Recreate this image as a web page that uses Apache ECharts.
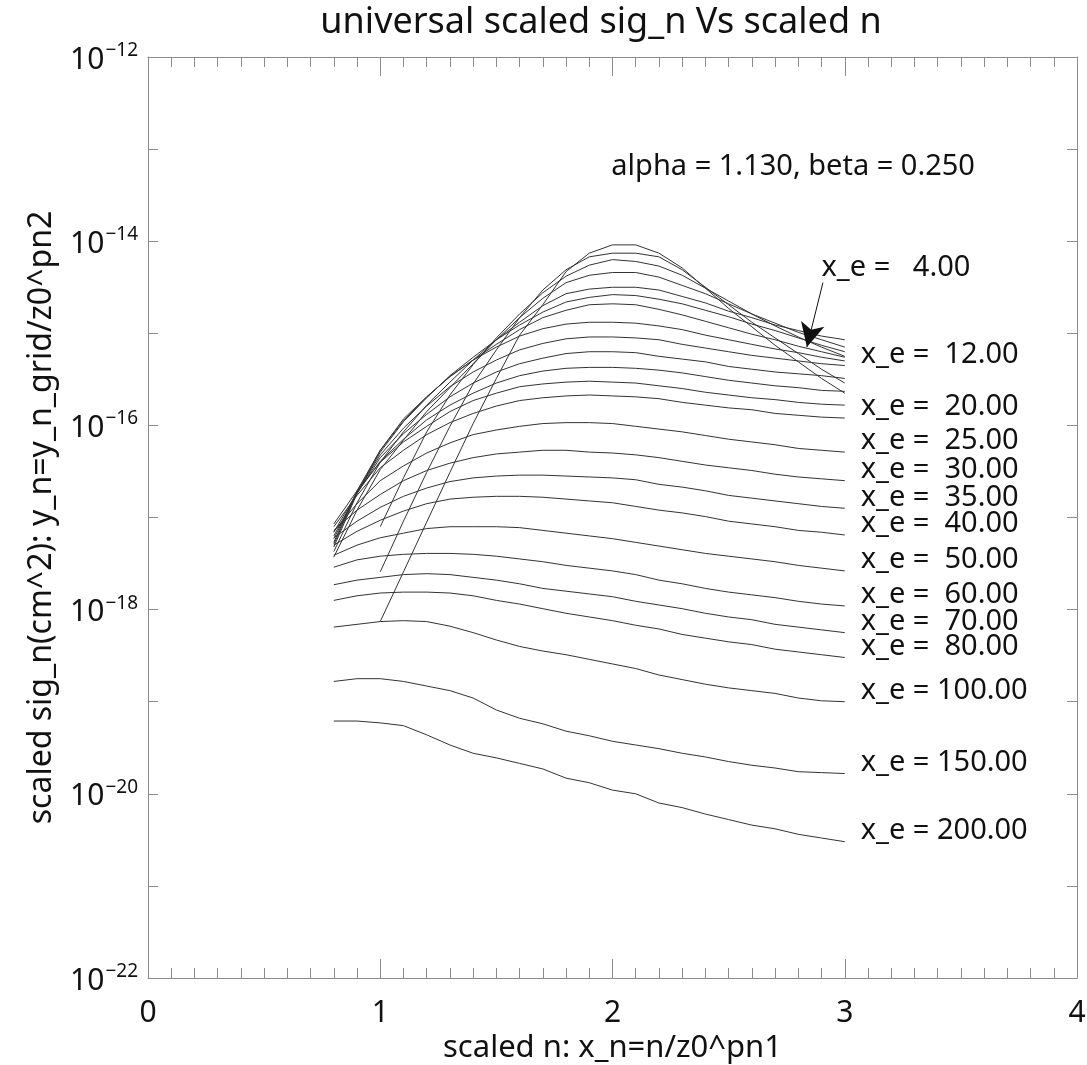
<!DOCTYPE html>
<html>
<head>
<meta charset="utf-8">
<script src="https://cdn.jsdelivr.net/npm/echarts@6/dist/echarts.min.js"></script>
<style>
  html, body { margin: 0; padding: 0; background: #fff; }
  #chart { width: 1087px; height: 1065px; }
</style>
</head>
<body>
<div id="chart"></div>
<script>
// scaled n grid (x_n) for the broad curves and the ones starting at x_n = 1
const xFrom08 = [0.8, 0.9, 1.0, 1.1, 1.2, 1.3, 1.4, 1.5, 1.6, 1.7, 1.8, 1.9, 2.0, 2.1, 2.2, 2.3, 2.4, 2.5, 2.6, 2.7, 2.8, 2.9, 3.0];
const xFrom10 = [1.0, 1.1, 1.2, 1.3, 1.4, 1.5, 1.6, 1.7, 1.8, 1.9, 2.0, 2.1, 2.2, 2.3, 2.4, 2.5, 2.6, 2.7, 2.8, 2.9, 3.0];

// log10 of scaled sig_n (cm^2)
const logSigXe4 = [-18.13, -17.59, -17.05, -16.51, -15.98, -15.49, -15.02, -14.69, -14.33, -14.13, -14.04, -14.04, -14.13, -14.29, -14.51, -14.73, -14.93, -15.13, -15.31, -15.49, -15.65];
const logSigXe5 = [-17.59, -17.04, -16.51, -16.01, -15.55, -15.18, -14.83, -14.53, -14.31, -14.17, -14.13, -14.13, -14.17, -14.31, -14.50, -14.69, -14.88, -15.05, -15.22, -15.39, -15.54];
const logSigXe6 = [-17.10, -16.57, -16.07, -15.67, -15.34, -15.05, -14.79, -14.56, -14.38, -14.26, -14.20, -14.22, -14.27, -14.37, -14.51, -14.65, -14.79, -14.92, -15.04, -15.15, -15.25];
const logSigXe7 = [-17.43, -16.92, -16.48, -16.16, -15.85, -15.59, -15.33, -15.07, -14.83, -14.62, -14.45, -14.37, -14.34, -14.34, -14.39, -14.48, -14.57, -14.68, -14.79, -14.89, -14.99, -15.07, -15.15];
const logSigXe8 = [-17.37, -16.84, -16.40, -16.07, -15.78, -15.53, -15.29, -15.07, -14.88, -14.70, -14.57, -14.52, -14.50, -14.50, -14.53, -14.60, -14.67, -14.76, -14.83, -14.91, -14.97, -15.03, -15.07];
const logSigXe9 = [-17.32, -16.74, -16.29, -15.96, -15.70, -15.46, -15.26, -15.07, -14.91, -14.77, -14.66, -14.61, -14.58, -14.59, -14.63, -14.68, -14.75, -14.82, -14.90, -14.97, -15.05, -15.13, -15.20];
const logSigXe10 = [-17.29, -16.73, -16.27, -15.93, -15.69, -15.47, -15.29, -15.12, -14.96, -14.83, -14.75, -14.69, -14.68, -14.69, -14.74, -14.80, -14.87, -14.94, -15.01, -15.07, -15.14, -15.20, -15.26];
const logSigXe11 = [-17.27, -16.71, -16.27, -15.95, -15.69, -15.47, -15.29, -15.15, -15.03, -14.95, -14.90, -14.88, -14.88, -14.89, -14.92, -14.96, -15.02, -15.07, -15.12, -15.17, -15.21, -15.26, -15.30];
const logSigXe12 = [-17.23, -16.73, -16.32, -16.03, -15.79, -15.58, -15.42, -15.29, -15.18, -15.11, -15.06, -15.04, -15.04, -15.05, -15.07, -15.12, -15.16, -15.20, -15.24, -15.27, -15.30, -15.33, -15.35];
const logSigXe14 = [-17.20, -16.74, -16.35, -16.09, -15.88, -15.69, -15.54, -15.42, -15.33, -15.27, -15.22, -15.20, -15.20, -15.21, -15.25, -15.28, -15.31, -15.36, -15.39, -15.42, -15.44, -15.46, -15.49];
const logSigXe16 = [-17.16, -16.73, -16.39, -16.15, -15.94, -15.78, -15.65, -15.54, -15.46, -15.41, -15.38, -15.37, -15.37, -15.38, -15.40, -15.43, -15.47, -15.51, -15.54, -15.57, -15.59, -15.62, -15.63];
const logSigXe18 = [-17.07, -16.71, -16.40, -16.18, -16.01, -15.85, -15.73, -15.65, -15.58, -15.55, -15.53, -15.52, -15.53, -15.54, -15.57, -15.60, -15.64, -15.67, -15.70, -15.72, -15.75, -15.77, -15.78];
const logSigXe20 = [-17.10, -16.76, -16.46, -16.27, -16.10, -15.97, -15.87, -15.79, -15.73, -15.70, -15.68, -15.67, -15.68, -15.69, -15.71, -15.75, -15.78, -15.81, -15.83, -15.87, -15.89, -15.91, -15.92];
const logSigXe25 = [-17.15, -16.85, -16.60, -16.44, -16.30, -16.19, -16.10, -16.05, -16.01, -15.98, -15.97, -15.97, -15.98, -16.01, -16.04, -16.07, -16.11, -16.15, -16.18, -16.21, -16.25, -16.27, -16.29];
const logSigXe30 = [-17.14, -16.92, -16.75, -16.60, -16.49, -16.41, -16.35, -16.31, -16.29, -16.27, -16.27, -16.29, -16.30, -16.32, -16.35, -16.39, -16.43, -16.46, -16.49, -16.53, -16.56, -16.58, -16.60];
const logSigXe35 = [-17.22, -17.04, -16.89, -16.77, -16.68, -16.61, -16.57, -16.55, -16.54, -16.54, -16.55, -16.56, -16.57, -16.59, -16.64, -16.67, -16.71, -16.76, -16.79, -16.82, -16.85, -16.88, -16.90];
const logSigXe40 = [-17.30, -17.15, -17.03, -16.93, -16.85, -16.80, -16.78, -16.77, -16.77, -16.78, -16.80, -16.82, -16.84, -16.88, -16.92, -16.95, -16.99, -17.04, -17.07, -17.10, -17.14, -17.16, -17.19];
const logSigXe50 = [-17.41, -17.30, -17.22, -17.17, -17.12, -17.10, -17.10, -17.10, -17.11, -17.14, -17.17, -17.20, -17.23, -17.27, -17.31, -17.35, -17.39, -17.42, -17.45, -17.48, -17.52, -17.55, -17.58];
const logSigXe60 = [-17.54, -17.46, -17.42, -17.40, -17.39, -17.39, -17.40, -17.42, -17.45, -17.48, -17.52, -17.55, -17.58, -17.62, -17.68, -17.72, -17.77, -17.81, -17.84, -17.87, -17.91, -17.94, -17.96];
const logSigXe70 = [-17.73, -17.68, -17.65, -17.62, -17.61, -17.62, -17.65, -17.68, -17.72, -17.77, -17.80, -17.83, -17.86, -17.91, -17.95, -17.99, -18.04, -18.08, -18.11, -18.16, -18.19, -18.22, -18.25];
const logSigXe80 = [-17.90, -17.85, -17.82, -17.81, -17.81, -17.82, -17.85, -17.90, -17.94, -17.99, -18.04, -18.08, -18.12, -18.17, -18.21, -18.27, -18.31, -18.35, -18.38, -18.43, -18.46, -18.49, -18.52];
const logSigXe100 = [-18.19, -18.16, -18.13, -18.12, -18.13, -18.18, -18.25, -18.33, -18.40, -18.45, -18.49, -18.54, -18.59, -18.64, -18.71, -18.76, -18.81, -18.85, -18.88, -18.91, -18.96, -18.99, -19.00];
const logSigXe150 = [-18.78, -18.75, -18.75, -18.78, -18.83, -18.88, -18.96, -19.09, -19.18, -19.24, -19.32, -19.37, -19.43, -19.47, -19.51, -19.56, -19.60, -19.65, -19.69, -19.72, -19.76, -19.77, -19.78];
const logSigXe200 = [-19.21, -19.21, -19.23, -19.26, -19.36, -19.47, -19.56, -19.61, -19.67, -19.73, -19.83, -19.88, -19.96, -20.00, -20.10, -20.15, -20.22, -20.28, -20.34, -20.38, -20.44, -20.48, -20.52];

// [x_e, x grid, values, show end label]
const curves = [
  [4, xFrom10, logSigXe4, false],
  [5, xFrom10, logSigXe5, false],
  [6, xFrom10, logSigXe6, false],
  [7, xFrom08, logSigXe7, false],
  [8, xFrom08, logSigXe8, false],
  [9, xFrom08, logSigXe9, false],
  [10, xFrom08, logSigXe10, false],
  [11, xFrom08, logSigXe11, false],
  [12, xFrom08, logSigXe12, true],
  [14, xFrom08, logSigXe14, false],
  [16, xFrom08, logSigXe16, false],
  [18, xFrom08, logSigXe18, false],
  [20, xFrom08, logSigXe20, true],
  [25, xFrom08, logSigXe25, true],
  [30, xFrom08, logSigXe30, true],
  [35, xFrom08, logSigXe35, true],
  [40, xFrom08, logSigXe40, true],
  [50, xFrom08, logSigXe50, true],
  [60, xFrom08, logSigXe60, true],
  [70, xFrom08, logSigXe70, true],
  [80, xFrom08, logSigXe80, true],
  [100, xFrom08, logSigXe100, true],
  [150, xFrom08, logSigXe150, true],
  [200, xFrom08, logSigXe200, true],
];

const FONT = "Noto Sans";
const AXIS_COLOR = "#8c8c8c";
const LINE_COLOR = "#333";
const TEXT_SIZE = 29;

function xeLabel(xe) {
  const pad = xe < 10 ? "   " : xe < 100 ? "  " : " ";
  return "x_e =" + pad + xe.toFixed(2);
}

// y axis holds log10(sig); labels are drawn as powers of ten
function supLabel(v) {
  const e = Math.round(v);
  if (e % 2 !== 0) return "";
  return "{b|10}{s|\u2212" + Math.abs(e) + "}";
}

const chart = echarts.init(document.getElementById("chart"));

const series = curves.map(([xe, xs, vals, labelled]) => ({
  name: xeLabel(xe),
  type: "line",
  symbol: "none",
  silent: true,
  animation: false,
  lineStyle: { color: LINE_COLOR, width: 1 },
  data: xs.map((x, i) => [x, vals[i]]),
  endLabel: {
    show: labelled,
    formatter: (p) => p.seriesName,
    fontFamily: FONT,
    fontSize: TEXT_SIZE,
    color: "#111",
    distance: 0,
    offset: [16, -11],
  },
}));

// arrow + label for x_e = 4 (its end is crowded), and the parameter note
series[0].markLine = {
  silent: true,
  animation: false,
  symbol: ["none", "arrow"],
  symbolSize: [18, 24],
  lineStyle: { color: "#111", width: 1, type: "solid" },
  label: { show: false },
  data: [[{ coord: [2.906, -14.45] }, { coord: [2.837, -15.15] }]],
};
series[0].markPoint = {
  silent: true,
  animation: false,
  symbol: "circle",
  symbolSize: 0,
  data: [
    {
      coord: [2.9, -14.29],
      label: {
        show: true, position: "right", distance: 0,
        formatter: "x_e =   4.00",
        fontFamily: FONT, fontSize: TEXT_SIZE, color: "#111",
      },
    },
    {
      coord: [1.995, -13.19],
      label: {
        show: true, position: "right", distance: 0,
        formatter: "alpha = 1.130, beta = 0.250",
        fontFamily: FONT, fontSize: TEXT_SIZE, color: "#111",
      },
    },
  ],
};

const xTickBase = {
  type: "value",
  min: 0,
  max: 4,
  interval: 1,
  axisLine: { show: true, onZero: false, lineStyle: { color: AXIS_COLOR, width: 1 } },
  axisTick: { show: true, inside: true, length: 19, lineStyle: { color: AXIS_COLOR } },
  minorTick: { show: true, splitNumber: 10, length: 10, lineStyle: { color: AXIS_COLOR } },
  splitLine: { show: false },
};

const yTickBase = {
  type: "value",
  min: -22,
  max: -12,
  interval: 1,
  axisLine: { show: true, onZero: false, lineStyle: { color: AXIS_COLOR, width: 1 } },
  axisTick: { show: true, inside: true, length: 10, lineStyle: { color: AXIS_COLOR } },
  splitLine: { show: false },
};

chart.setOption({
  animation: false,
  backgroundColor: "#fff",
  title: {
    text: "universal scaled sig_n Vs scaled n",
    left: 596,
    textAlign: "center",
    top: 0,
    textStyle: { fontFamily: FONT, fontSize: 36, fontWeight: "normal", color: "#111" },
  },
  grid: { left: 148, right: 10, top: 57, bottom: 87, containLabel: false, outerBoundsMode: "none" },
  xAxis: [
    Object.assign({}, xTickBase, {
      position: "bottom",
      name: "scaled n: x_n=n/z0^pn1",
      nameLocation: "middle",
      nameGap: 53,
      nameTextStyle: { fontFamily: FONT, fontSize: 31, color: "#111" },
      axisLabel: { fontFamily: FONT, fontSize: 30, color: "#111", margin: 20 },
    }),
    Object.assign({}, xTickBase, {
      position: "top",
      axisLabel: { show: false },
    }),
  ],
  yAxis: [
    Object.assign({}, yTickBase, {
      position: "left",
      name: "scaled sig_n(cm^2): y_n=y_n_grid/z0^pn2",
      nameLocation: "middle",
      nameGap: 90,
      nameRotate: 90,
      nameTextStyle: { fontFamily: FONT, fontSize: 32, color: "#111" },
      axisLabel: {
        margin: 10,
        formatter: supLabel,
        rich: {
          b: { fontFamily: FONT, fontSize: 30, color: "#111", lineHeight: 36, verticalAlign: "bottom" },
          s: { fontFamily: FONT, fontSize: 19, color: "#111", lineHeight: 36, verticalAlign: "bottom", padding: [0, 0, 15, 1] },
        },
      },
    }),
    Object.assign({}, yTickBase, {
      position: "right",
      axisLabel: { show: false },
    }),
  ],
  series: series,
});
</script>
</body>
</html>
